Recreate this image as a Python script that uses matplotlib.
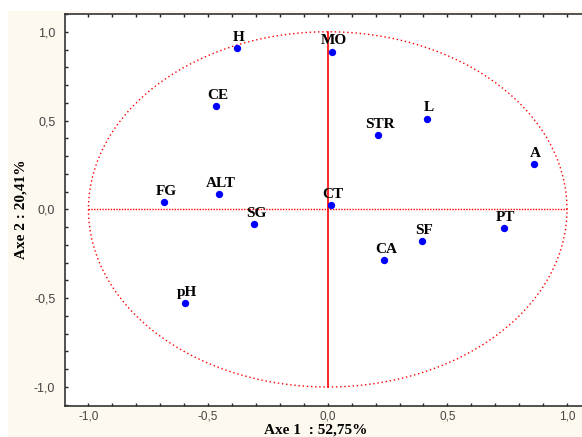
import matplotlib
matplotlib.use("Agg")
import matplotlib.pyplot as plt
import numpy as np
from matplotlib.ticker import MultipleLocator, FuncFormatter
from matplotlib.patches import Rectangle

labels = ["H", "MO", "CE", "L", "STR", "A", "FG", "ALT", "CT", "SG", "PT", "SF", "CA", "pH"]
axe1 = [-0.38, 0.018, -0.466, 0.414, 0.21, 0.861, -0.685, -0.456, 0.0125, -0.308, 0.736, 0.395, 0.236, -0.598]
axe2 = [0.91, 0.888, 0.58, 0.511, 0.419, 0.255, 0.043, 0.088, 0.024, -0.083, -0.103, -0.177, -0.285, -0.528]
xlabel = "Axe 1  : 52,75%"
ylabel = "Axe 2 : 20,41%"

W, H = 582, 437
fig = plt.figure(figsize=(W / 100, H / 100), dpi=100)
fig.patch.set_facecolor("white")
bg = Rectangle((8 / W, 0), 1 - 8 / W, (H - 11) / H, transform=fig.transFigure,
               facecolor="#fdf9ee", edgecolor="none", zorder=-10)
fig.add_artist(bg)

ax = fig.add_axes([65 / W, (H - 406) / H, 1 - 65 / W + 0.01, (406 - 14) / H])
ax.set_zorder(1)
ax.set_facecolor("white")
ax.set_xlim(-1.098, 1.087)
ax.set_ylim(-1.107, 1.10)

# unit circle and axes lines
t = np.linspace(0, 2 * np.pi, 400)
ax.plot(np.cos(t), np.sin(t), color="red", lw=1.0, linestyle=(0, (1, 2)), zorder=2)
ax.plot([-1, 1], [0, 0], color="red", lw=1.0, linestyle=(0, (1, 1)), zorder=2)
ax.plot([0, 0], [-1, 1], color="red", lw=1.2, zorder=2)

ax.scatter(axe1, axe2, s=28, marker="o", color="#0000ff", zorder=3, linewidths=0)
for lab, x, y in zip(labels, axe1, axe2):
    ax.annotate(lab, (x, y), xytext=(1.5, 3), textcoords="offset points", ha="center", va="bottom",
                fontsize=11, fontweight="bold", family="Liberation Serif", color="black", zorder=4)

ax.spines["right"].set_visible(False)
for s in ["left", "top", "bottom"]:
    ax.spines[s].set_color("#333333")
    ax.spines[s].set_linewidth(1.2)

ax.xaxis.set_major_locator(MultipleLocator(0.5))
ax.yaxis.set_major_locator(MultipleLocator(0.5))
ax.xaxis.set_minor_locator(MultipleLocator(0.1))
ax.yaxis.set_minor_locator(MultipleLocator(0.1))
fmt = FuncFormatter(lambda v, p: f"{v:.1f}".replace(".", ",").replace("-0,0", "0,0"))
ax.xaxis.set_major_formatter(fmt)
ax.yaxis.set_major_formatter(fmt)
ax.tick_params(which="both", direction="in", top=True, right=False, length=2.5, width=1, color="#222222")
ax.tick_params(which="minor", length=2)
ax.tick_params(axis="x", labelsize=8.5, labelcolor="#444444", pad=3)
ax.tick_params(axis="y", labelsize=9, labelcolor="#444444", pad=7)
for lab in ax.get_xticklabels() + ax.get_yticklabels():
    lab.set_family("Liberation Sans")

fig.text(316 / W, 1 - 430 / H, xlabel, ha="center", va="center", fontsize=11, fontweight="bold",
         family="Liberation Serif")
fig.text(21 / W, 1 - 209 / H, ylabel, ha="center", va="center", rotation=90, fontsize=11,
         fontweight="bold", family="Liberation Serif")

fig.savefig("out.png", dpi=100)
